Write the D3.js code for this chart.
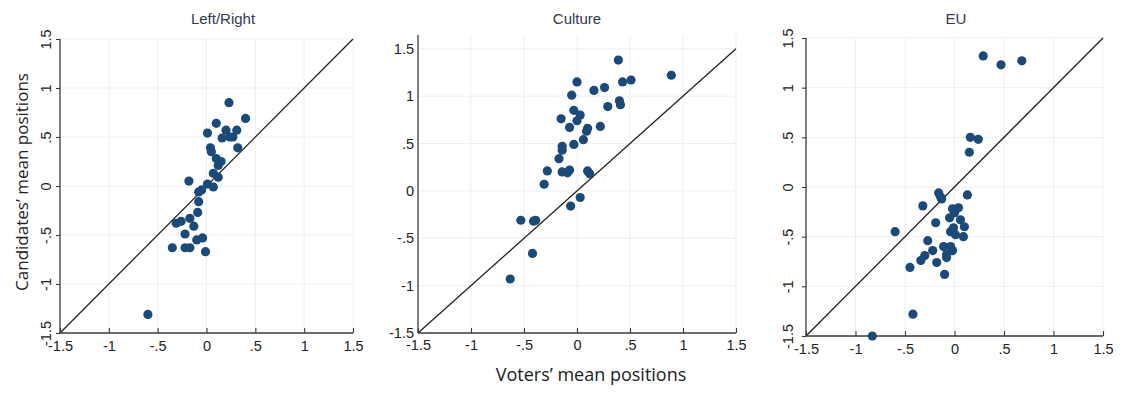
<!DOCTYPE html>
<html>
<head>
<meta charset="utf-8">
<script src="https://cdn.jsdelivr.net/npm/d3@7"></script>
<style>
  html, body { margin: 0; padding: 0; background: #fff; }
  svg { display: block; }
</style>
</head>
<body>
<svg id="chart" width="1122" height="395"></svg>
<script>
// Voters' (x) vs candidates' (y) mean positions, one panel per dimension
const panelTitles = ["Left/Right", "Culture", "EU"];

const leftRightVoters = [0.23, 0.40, 0.10, 0.01, 0.20, 0.31, 0.16, 0.24, 0.27, 0.32, 0.04, 0.05,
  0.10, 0.15, 0.12, 0.07, 0.12, 0.07, 0.01, -0.18, -0.05, -0.08, -0.08, -0.09, -0.17, -0.31,
  -0.26, -0.13, -0.22, -0.04, -0.10, -0.35, -0.22, -0.17, -0.01, -0.60];
const leftRightCandidates = [0.85, 0.69, 0.64, 0.54, 0.57, 0.57, 0.49, 0.50, 0.50, 0.39, 0.39, 0.35,
  0.28, 0.25, 0.21, 0.13, 0.09, -0.01, 0.02, 0.05, -0.04, -0.06, -0.16, -0.27, -0.33, -0.38,
  -0.36, -0.41, -0.49, -0.53, -0.55, -0.63, -0.63, -0.63, -0.67, -1.31];

const cultureVoters = [0.39, 0.89, 0.51, 0.43, 0.00, 0.26, 0.16, -0.05, 0.40, 0.41, 0.29, -0.03,
  0.03, -0.15, 0.00, -0.07, 0.22, 0.10, 0.09, 0.06, -0.03, -0.14, -0.14, -0.17, -0.28, -0.14,
  -0.09, -0.07, 0.10, 0.12, -0.31, 0.03, -0.06, -0.53, -0.41, -0.39, -0.42, -0.63];
const cultureCandidates = [1.38, 1.22, 1.17, 1.15, 1.15, 1.09, 1.06, 1.01, 0.95, 0.91, 0.89, 0.85,
  0.80, 0.76, 0.74, 0.67, 0.68, 0.66, 0.63, 0.54, 0.49, 0.47, 0.43, 0.34, 0.21, 0.20,
  0.19, 0.22, 0.21, 0.18, 0.07, -0.07, -0.16, -0.31, -0.32, -0.31, -0.66, -0.93];

const euVoters = [0.29, 0.47, 0.68, 0.16, 0.24, 0.15, -0.16, -0.14, -0.13, 0.13, -0.32, -0.02,
  0.04, 0.00, -0.05, 0.06, -0.19, 0.10, -0.01, -0.04, 0.01, -0.60, 0.09, -0.27, -0.11, -0.04,
  -0.02, -0.22, -0.08, -0.30, -0.34, -0.08, -0.18, -0.45, -0.10, -0.42, -0.83];
const euCandidates = [1.32, 1.23, 1.27, 0.50, 0.48, 0.35, -0.06, -0.10, -0.12, -0.08, -0.19, -0.22,
  -0.21, -0.26, -0.31, -0.33, -0.36, -0.40, -0.41, -0.45, -0.48, -0.45, -0.50, -0.54, -0.60, -0.60,
  -0.64, -0.64, -0.68, -0.69, -0.74, -0.71, -0.76, -0.81, -0.88, -1.28, -1.50];

const tickValues = [-1.5, -1, -0.5, 0, 0.5, 1, 1.5];
const tickLabels = ["-1.5", "-1", "-.5", "0", ".5", "1", "1.5"];

const yAxisTitle = "Candidates\u2019 mean positions";
const xAxisTitle = "Voters\u2019 mean positions";

// Panel frames (pixel boxes) and axis styling
const panels = [
  { title: panelTitles[0], xs: leftRightVoters, ys: leftRightCandidates,
    left: 60, right: 353, top: 39, bottom: 333, yMax: 1.5,
    titleX: 223, yLabelsRotated: true, yLabelOffset: 14, ticks: true },
  { title: panelTitles[1], xs: cultureVoters, ys: cultureCandidates,
    left: 418, right: 736, top: 35, bottom: 333, yMax: 1.645,
    titleX: 577, yLabelsRotated: false, yLabelOffset: 4, ticks: false },
  { title: panelTitles[2], xs: euVoters, ys: euCandidates,
    left: 806, right: 1103, top: 38, bottom: 336, yMax: 1.5,
    titleX: 956, yLabelsRotated: true, yLabelOffset: 18, ticks: true }
];

const svg = d3.select("#chart");
const fmt = v => tickLabels[tickValues.indexOf(v)];
const dotColor = "#1b4a78";
const axisColor = "#3a3a3a";
const gridColor = "#eceff3";
const labelFont = "Liberation Sans, Arial, sans-serif";
const tickFontSize = "14.5px";

panels.forEach(p => {
  const x = d3.scaleLinear().domain([-1.5, 1.5]).range([p.left, p.right]);
  const y = d3.scaleLinear().domain([-1.5, p.yMax]).range([p.bottom, p.top]);
  const g = svg.append("g");

  // light grid
  g.append("g").selectAll("line").data(tickValues.slice(1)).join("line")
    .attr("x1", d => x(d)).attr("x2", d => x(d))
    .attr("y1", y(p.yMax)).attr("y2", y(-1.5))
    .attr("stroke", gridColor).attr("stroke-width", 1);
  g.append("g").selectAll("line").data(tickValues.slice(1)).join("line")
    .attr("y1", d => y(d)).attr("y2", d => y(d))
    .attr("x1", x(-1.5)).attr("x2", x(1.5))
    .attr("stroke", gridColor).attr("stroke-width", 1);

  // 45-degree reference line
  g.append("line")
    .attr("x1", x(-1.5)).attr("y1", y(-1.5))
    .attr("x2", x(1.5)).attr("y2", y(1.5))
    .attr("stroke", "#222").attr("stroke-width", 1.3);

  // x axis
  const xAxis = d3.axisBottom(x).tickValues(tickValues).tickFormat(fmt)
    .tickSize(p.ticks ? 5 : 0).tickPadding(p.ticks ? 3 : 7);
  const gx = g.append("g").attr("transform", `translate(0,${p.bottom})`).call(xAxis);
  gx.select(".domain").attr("stroke", axisColor).attr("stroke-width", 1.3)
    .attr("d", `M${x(-1.5)},0H${x(1.5)}`);
  gx.selectAll(".tick line").attr("stroke", axisColor).attr("stroke-width", 1.1)
    .attr("y1", -5).attr("y2", 0);
  gx.selectAll(".tick text").attr("fill", "#222")
    .style("font-family", labelFont).style("font-size", tickFontSize);

  // y axis
  const yAxis = d3.axisLeft(y).tickValues(tickValues).tickFormat(fmt)
    .tickSize(p.ticks ? 4 : 0).tickPadding(p.yLabelOffset);
  const gy = g.append("g").attr("transform", `translate(${p.left},0)`).call(yAxis);
  gy.select(".domain").attr("stroke", axisColor).attr("stroke-width", 1.3)
    .attr("d", `M0,${y(p.yMax)}V${y(-1.5)}`);
  gy.selectAll(".tick line").attr("stroke", axisColor).attr("stroke-width", 1.1);
  const yt = gy.selectAll(".tick text").attr("fill", "#222")
    .style("font-family", labelFont).style("font-size", tickFontSize);
  if (p.yLabelsRotated) {
    yt.attr("x", null)
      .attr("text-anchor", "middle")
      .attr("transform", `translate(${-p.yLabelOffset},0) rotate(-90)`)
      .attr("dy", "0.35em");
  }

  // panel title
  g.append("text").attr("x", p.titleX).attr("y", 24)
    .attr("text-anchor", "middle").attr("fill", "#33374f")
    .style("font-family", labelFont).style("font-size", "15px")
    .text(p.title);

  // points
  g.append("g").selectAll("circle").data(p.xs.map((v, i) => [v, p.ys[i]])).join("circle")
    .attr("cx", d => x(d[0])).attr("cy", d => y(d[1])).attr("r", 4.6)
    .attr("fill", dotColor);
});

// shared axis titles
svg.append("text")
  .attr("transform", "translate(28,182) rotate(-90)")
  .attr("text-anchor", "middle").attr("fill", "#222")
  .style("font-family", "Open Sans, sans-serif").style("font-size", "17px")
  .text(yAxisTitle);

svg.append("text")
  .attr("x", 591).attr("y", 381)
  .attr("text-anchor", "middle").attr("fill", "#222")
  .style("font-family", "Open Sans, sans-serif").style("font-size", "18px")
  .text(xAxisTitle);
</script>
</body>
</html>
